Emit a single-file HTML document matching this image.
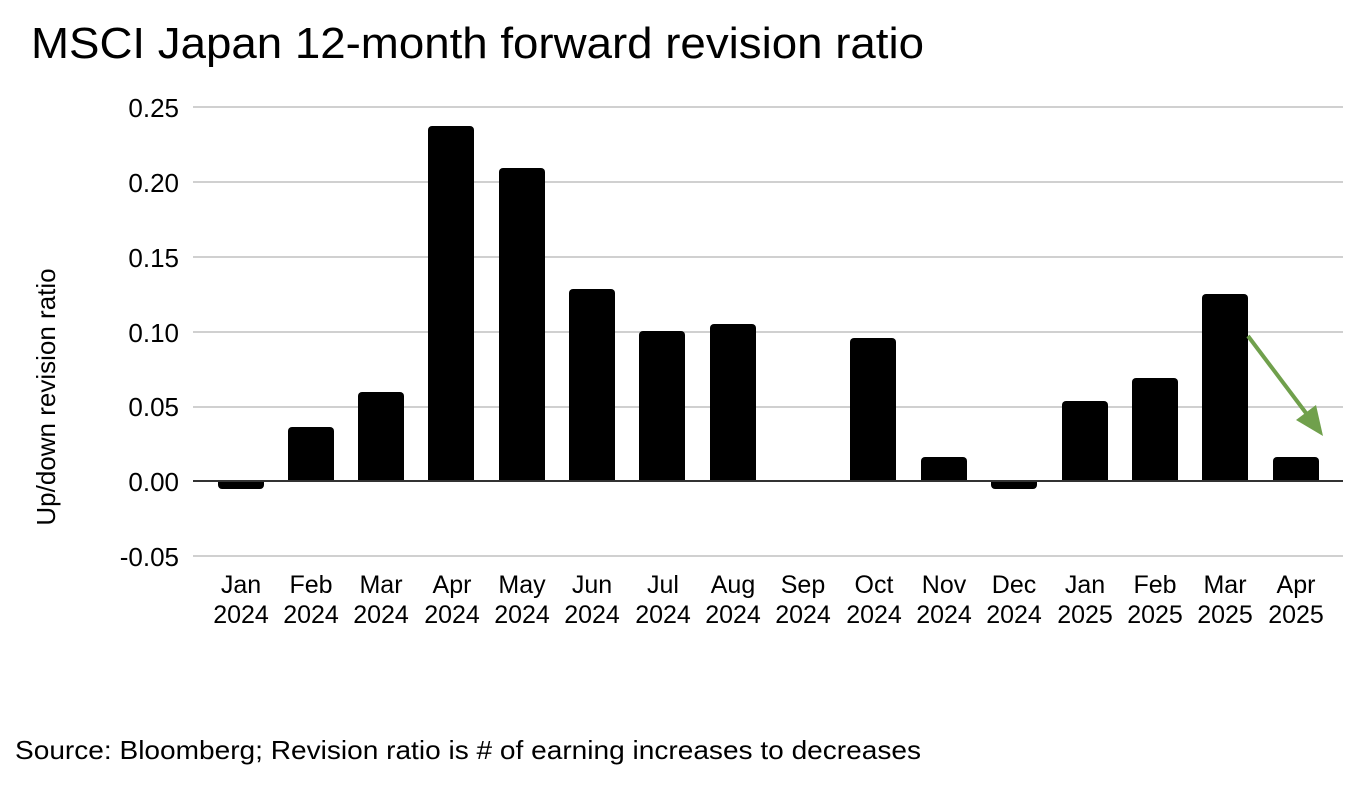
<!DOCTYPE html>
<html><head><meta charset="utf-8"><style>
body{margin:0;background:#fff;}
svg text{font-family:"Liberation Sans",Arial,sans-serif;fill:#000;}
</style></head><body>
<svg width="1368" height="804" viewBox="0 0 1368 804" xmlns="http://www.w3.org/2000/svg">
<rect width="1368" height="804" fill="#fff"/>
<text x="31" y="58" font-size="44" textLength="893" lengthAdjust="spacingAndGlyphs">MSCI Japan 12-month forward revision ratio</text>
<g stroke="#d0d0d0" stroke-width="2">
<line x1="193" x2="1343" y1="107" y2="107"/>
<line x1="193" x2="1343" y1="182" y2="182"/>
<line x1="193" x2="1343" y1="257" y2="257"/>
<line x1="193" x2="1343" y1="332" y2="332"/>
<line x1="193" x2="1343" y1="407" y2="407"/>
<line x1="193" x2="1343" y1="556" y2="556"/>
</g>
<g font-size="26" text-anchor="end">
<text x="179" y="117">0.25</text>
<text x="179" y="192">0.20</text>
<text x="179" y="267">0.15</text>
<text x="179" y="342">0.10</text>
<text x="179" y="416">0.05</text>
<text x="179" y="491">0.00</text>
<text x="179" y="566">-0.05</text>
</g>
<text transform="translate(55,397) rotate(-90)" font-size="26" text-anchor="middle">Up/down revision ratio</text>
<g fill="#000">
<path d="M218 481h46v4a4 4 0 0 1 -4 4h-38a4 4 0 0 1 -4 -4z"/>
<path d="M288 481v-50a4 4 0 0 1 4 -4h38a4 4 0 0 1 4 4v50z"/>
<path d="M358 481v-85a4 4 0 0 1 4 -4h38a4 4 0 0 1 4 4v85z"/>
<path d="M428 481v-351a4 4 0 0 1 4 -4h38a4 4 0 0 1 4 4v351z"/>
<path d="M499 481v-309a4 4 0 0 1 4 -4h38a4 4 0 0 1 4 4v309z"/>
<path d="M569 481v-188a4 4 0 0 1 4 -4h38a4 4 0 0 1 4 4v188z"/>
<path d="M639 481v-146a4 4 0 0 1 4 -4h38a4 4 0 0 1 4 4v146z"/>
<path d="M710 481v-153a4 4 0 0 1 4 -4h38a4 4 0 0 1 4 4v153z"/>
<path d="M850 481v-139a4 4 0 0 1 4 -4h38a4 4 0 0 1 4 4v139z"/>
<path d="M921 481v-20a4 4 0 0 1 4 -4h38a4 4 0 0 1 4 4v20z"/>
<path d="M991 481h46v4a4 4 0 0 1 -4 4h-38a4 4 0 0 1 -4 -4z"/>
<path d="M1062 481v-76a4 4 0 0 1 4 -4h38a4 4 0 0 1 4 4v76z"/>
<path d="M1132 481v-99a4 4 0 0 1 4 -4h38a4 4 0 0 1 4 4v99z"/>
<path d="M1202 481v-183a4 4 0 0 1 4 -4h38a4 4 0 0 1 4 4v183z"/>
<path d="M1273 481v-20a4 4 0 0 1 4 -4h38a4 4 0 0 1 4 4v20z"/>
</g>
<line x1="193" x2="1343" y1="481" y2="481" stroke="#333" stroke-width="2"/>
<line x1="1248" y1="336" x2="1312" y2="421" stroke="#70a04c" stroke-width="4"/>
<polygon points="1323,436 1296,420 1316,405" fill="#70a04c"/>
<g font-size="25" text-anchor="middle">
<text x="241" y="593">Jan</text><text x="241" y="623">2024</text>
<text x="311" y="593">Feb</text><text x="311" y="623">2024</text>
<text x="381" y="593">Mar</text><text x="381" y="623">2024</text>
<text x="452" y="593">Apr</text><text x="452" y="623">2024</text>
<text x="522" y="593">May</text><text x="522" y="623">2024</text>
<text x="592" y="593">Jun</text><text x="592" y="623">2024</text>
<text x="663" y="593">Jul</text><text x="663" y="623">2024</text>
<text x="733" y="593">Aug</text><text x="733" y="623">2024</text>
<text x="803" y="593">Sep</text><text x="803" y="623">2024</text>
<text x="874" y="593">Oct</text><text x="874" y="623">2024</text>
<text x="944" y="593">Nov</text><text x="944" y="623">2024</text>
<text x="1014" y="593">Dec</text><text x="1014" y="623">2024</text>
<text x="1085" y="593">Jan</text><text x="1085" y="623">2025</text>
<text x="1155" y="593">Feb</text><text x="1155" y="623">2025</text>
<text x="1225" y="593">Mar</text><text x="1225" y="623">2025</text>
<text x="1296" y="593">Apr</text><text x="1296" y="623">2025</text>
</g>
<text x="15" y="759" font-size="26" textLength="906" lengthAdjust="spacingAndGlyphs">Source: Bloomberg; Revision ratio is # of earning increases to decreases</text>
</svg>
</body></html>
